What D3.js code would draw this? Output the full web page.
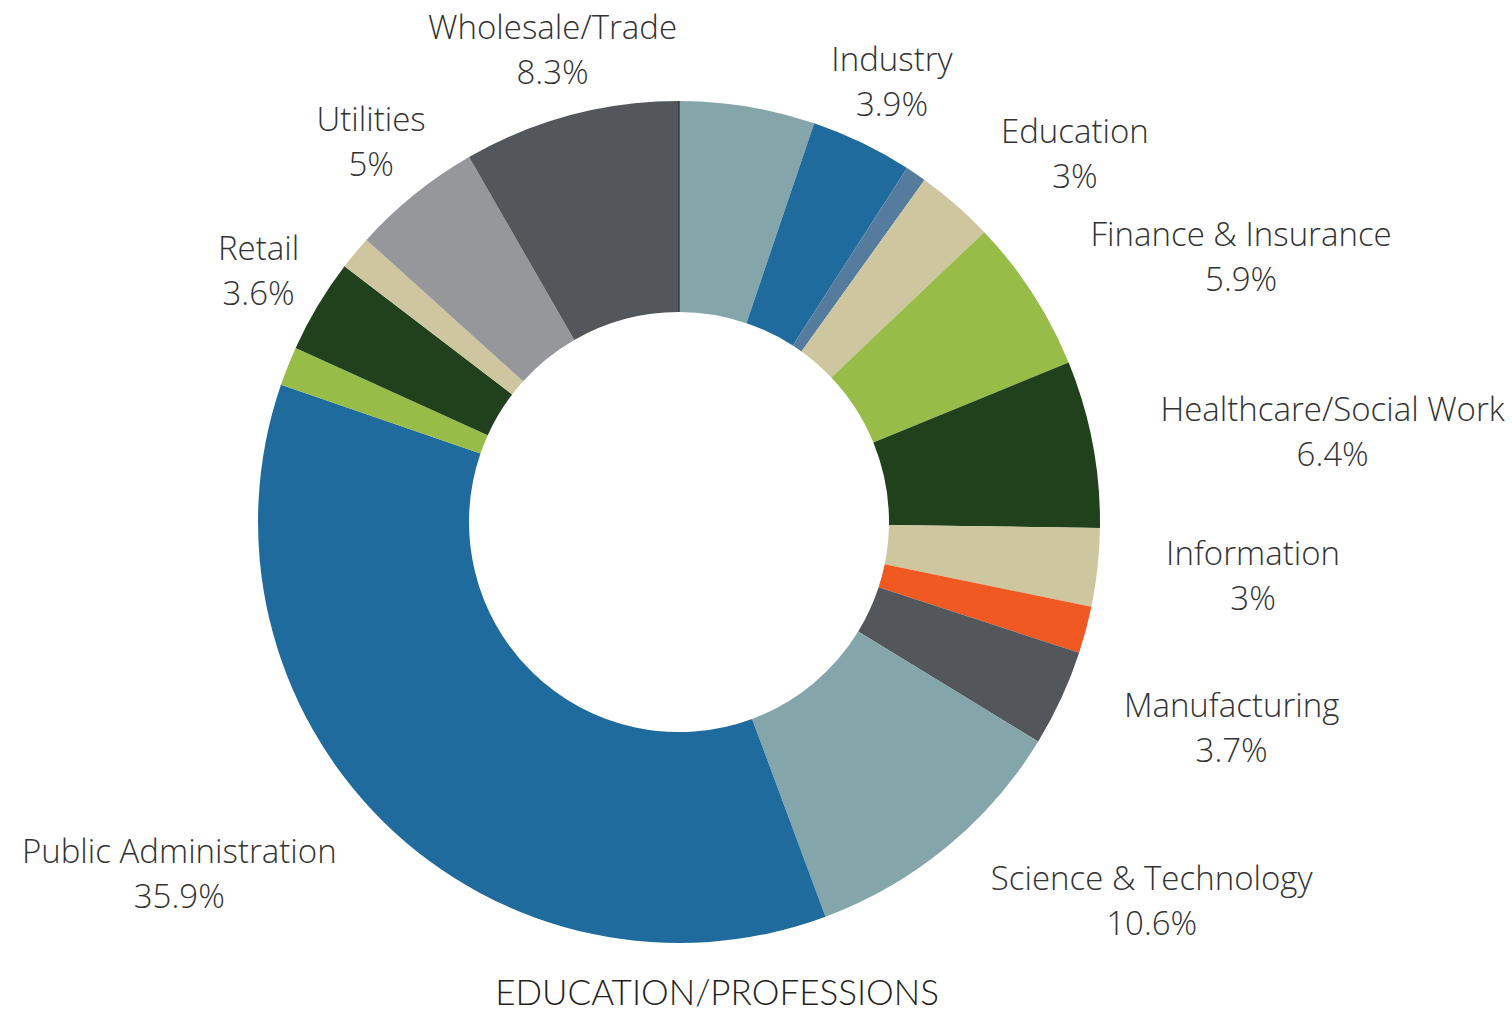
<html>
<head>
  <script src="https://d3js.org/d3.v7.min.js"></script>
  <style>
    body { margin: 0; background: #fff; }
  </style>
</head>
<body>
  <svg></svg>
  <script>

  // slices clockwise from 12 o'clock; empty name = unlabeled sliver
  const categories = ["", "Industry", "", "Education", "Finance & Insurance", "Healthcare/Social Work",
    "Information", "", "Manufacturing", "Science & Technology", "Public Administration",
    "", "Retail", "", "Utilities", "Wholesale/Trade"];
  const values = [5.2, 3.9, 0.8, 3, 5.9, 6.4, 3, 1.8, 3.7, 10.6, 35.9, 1.5, 3.6, 1.3, 5, 8.3];
  const percentLabels = ["", "3.9%", "", "3%", "5.9%", "6.4%", "3%", "", "3.7%", "10.6%", "35.9%",
    "", "3.6%", "", "5%", "8.3%"];
  const colors = ["#84a5a9", "#1f6b9e", "#557c9c", "#cec69e", "#97bc48", "#20411b", "#cec69e",
    "#f05a22", "#53575c", "#84a5a9", "#1f6b9e", "#97bc48", "#20411b", "#cec69e", "#96979b", "#53575c"];
  const title = "EDUCATION/PROFESSIONS";

  const width = 1512, height = 1012;
  const cx = 679, cy = 522;
  const outerR = 421, innerR = 210, labelR = 490;

  const svg = d3.select("svg").attr("width", width).attr("height", height);
  const g = svg.append("g").attr("transform", "translate(" + cx + "," + cy + ")");

  const data = categories.map((c, i) => ({name: c, value: values[i], pct: percentLabels[i], color: colors[i]}));
  const pie = d3.pie().value(d => d.value).sort(null);
  const arc = d3.arc().innerRadius(innerR).outerRadius(outerR);
  const arcs = pie(data);

  g.selectAll("path")
    .data(arcs)
    .join("path")
    .attr("d", arc)
    .attr("fill", d => d.data.color);

  // thin seam at the start angle
  g.append("line")
    .attr("x1", 0).attr("x2", 0)
    .attr("y1", -innerR).attr("y2", -outerR)
    .attr("stroke", "#2b2d30").attr("stroke-width", 1.2);

  const labelArc = d3.arc().innerRadius(labelR).outerRadius(labelR);

  const labels = g.selectAll("g.label")
    .data(arcs.filter(d => d.data.name))
    .join("g")
    .attr("class", "label");

  labels.each(function(d) {
    const lg = d3.select(this);
    const t = lg.append("text")
      .attr("text-anchor", "middle")
      .style("font-family", "'Open Sans', sans-serif")
      .style("font-weight", 300)
      .style("font-size", "33px")
      .attr("fill", "#333");
    t.append("tspan").attr("x", 0).attr("y", -10).text(d.data.name);
    t.append("tspan").attr("x", 0).attr("y", 35).text(d.data.pct);

    const w = t.node().getBBox().width;
    const a = (d.startAngle + d.endAngle) / 2 * 180 / Math.PI;
    let shift = 0;
    if (a > 35 && a < 180) shift = w / 2;
    else if (a > 180 && a < 270) shift = -w / 2;
    const [px, py] = labelArc.centroid(d);
    lg.attr("transform", "translate(" + (px + shift) + "," + py + ")");
  });

  svg.append("text")
    .attr("x", cx + 38)
    .attr("y", 1005)
    .attr("text-anchor", "middle")
    .style("font-family", "Lato, sans-serif")
    .style("font-weight", 300)
    .style("font-size", "35px")
    .attr("fill", "#231f20")
    .text(title);

  </script>
</body>
</html>
